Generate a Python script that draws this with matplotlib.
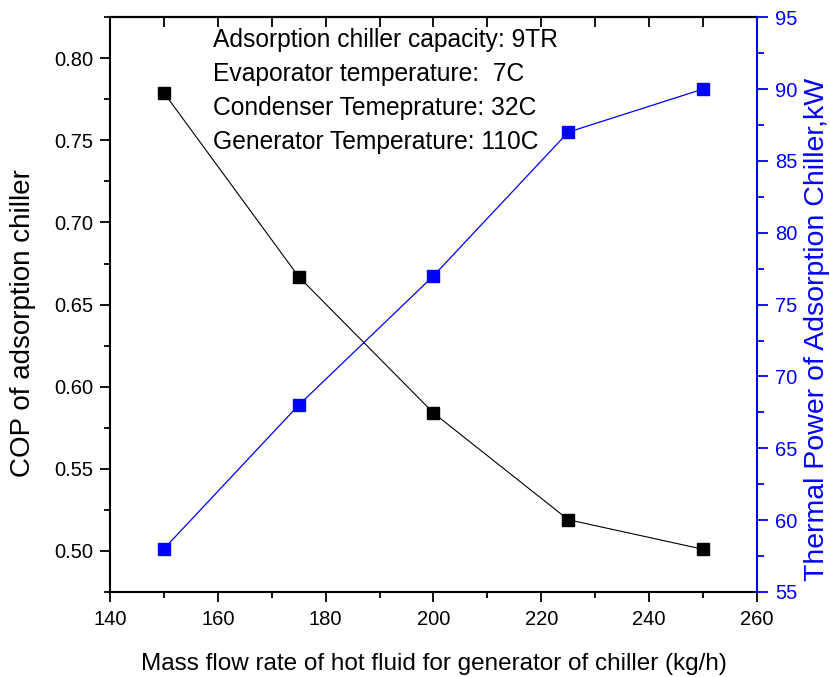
import matplotlib.pyplot as plt
from matplotlib.ticker import MultipleLocator

plt.rcParams["font.family"] = ["Liberation Sans", "DejaVu Sans"]

# data
mass_flow = [150, 175, 200, 225, 250]
cop = [0.779, 0.667, 0.584, 0.519, 0.501]
thermal_power = [58, 68, 77, 87, 90]

note_lines = [
    "Adsorption chiller capacity: 9TR",
    "Evaporator temperature:  7C",
    "Condenser Temeprature: 32C",
    "Generator Temperature: 110C",
]

blue = "#0000ff"

fig = plt.figure(figsize=(8.30, 6.77), dpi=100)
ax = fig.add_axes([0.1325, 0.1256, 0.7795, 0.849])

ax.plot(mass_flow, cop, color="black", lw=0.8, marker="s", ms=8,
        markerfacecolor="black", markeredgecolor="black")
ax.set_xlim(140, 260)
ax.set_ylim(0.475, 0.825)
ax.xaxis.set_major_locator(MultipleLocator(20))
ax.xaxis.set_minor_locator(MultipleLocator(10))
ax.yaxis.set_major_locator(MultipleLocator(0.05))
ax.yaxis.set_minor_locator(MultipleLocator(0.025))
ax.yaxis.set_major_formatter(lambda v, p: f"{v:.2f}")
ax.tick_params(which="both", direction="out", width=1.3, labelsize=14.5)
ax.tick_params(which="major", length=7)
ax.tick_params(which="minor", length=4)
ax.tick_params(axis="x", which="major", pad=6)
ax.tick_params(axis="y", which="major", pad=5)
for side in ["left", "bottom", "top"]:
    ax.spines[side].set_linewidth(1.5)
ax.spines["right"].set_visible(False)

ax.set_xlabel("Mass flow rate of hot fluid for generator of chiller (kg/h)",
              fontsize=17.5, labelpad=17)
ax.set_ylabel("COP of adsorption chiller", fontsize=20, labelpad=13)
ax.yaxis.label.set_y(0.468)

# ticks on the top spine point inward
top = ax.secondary_xaxis("top")
top.xaxis.set_major_locator(MultipleLocator(10))
top.tick_params(direction="in", length=7, width=1.3, labeltop=False)
top.spines["top"].set_linewidth(1.5)

ax2 = ax.twinx()
ax2.plot(mass_flow, thermal_power, color=blue, lw=0.9, marker="s", ms=8,
         markerfacecolor=blue, markeredgecolor=blue)
ax2.set_ylim(55, 95)
ax2.yaxis.set_major_locator(MultipleLocator(5))
ax2.yaxis.set_minor_locator(MultipleLocator(2.5))
ax2.tick_params(which="both", direction="out", color=blue, labelcolor=blue,
                width=1.3, labelsize=14.5)
ax2.tick_params(which="major", length=8, pad=5)
ax2.tick_params(which="minor", length=5)
ax2.spines["right"].set_color(blue)
ax2.spines["right"].set_linewidth(1.5)
for side in ["left", "bottom", "top"]:
    ax2.spines[side].set_visible(False)
ax2.set_ylabel("Thermal Power of Adsorption Chiller,kW", color=blue,
               fontsize=20.5, labelpad=5)
ax2.yaxis.label.set_y(0.456)

ax.text(0.159, 0.981, "\n".join(note_lines), transform=ax.transAxes,
        ha="left", va="top", fontsize=17.7, linespacing=1.52)

fig.savefig("out.png", dpi=100)
